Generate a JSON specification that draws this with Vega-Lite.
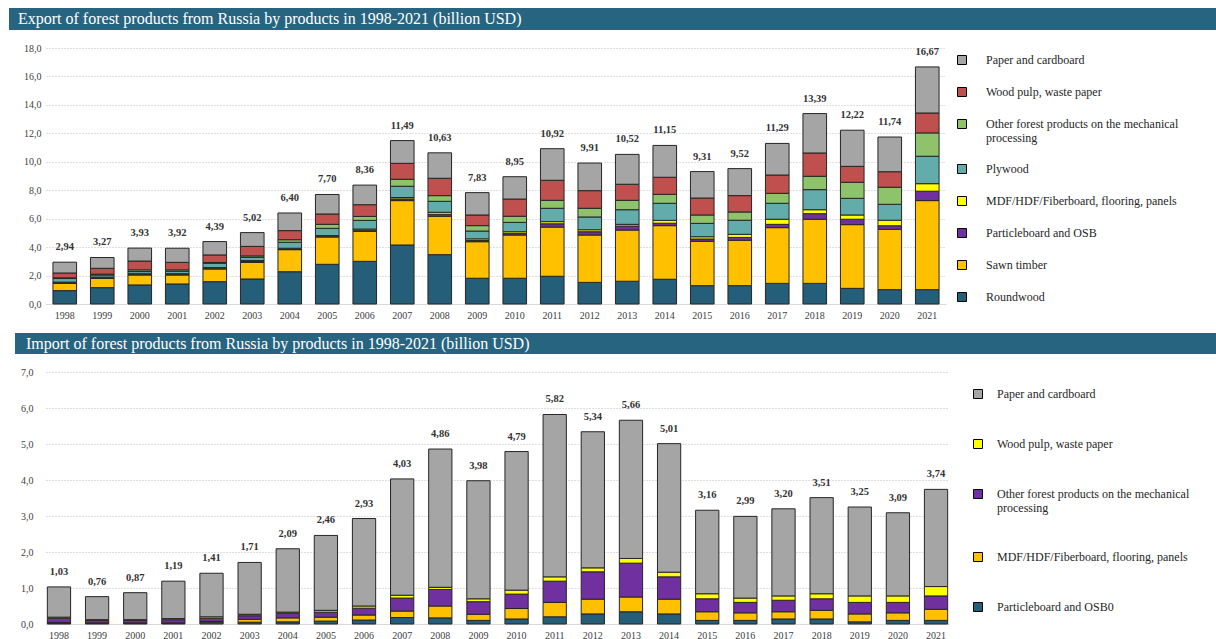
{
  "$schema": "https://vega.github.io/schema/vega-lite/v6.json",
  "padding": {"left": 8, "top": 8, "right": 0, "bottom": 0},
  "background": "white",
  "spacing": 13,
  "columns": 1,
  "align": "none",
  "config": {
    "locale": {"number": {"decimal": ",", "thousands": " ", "grouping": [3], "currency": ["", ""]}},
    "view": {"stroke": null},
    "font": "Liberation Serif",
    "axis": {"labelFont": "Liberation Serif", "labelFontSize": 10, "labelColor": "#404040", "ticks": false, "title": null},
    "legend": {"labelFont": "Liberation Serif", "labelFontSize": 12, "labelColor": "#262626", "symbolType": "square", "symbolSize": 81, "symbolStrokeColor": "#000000", "symbolStrokeWidth": 1, "labelLimit": 300, "title": null}
  },
  "resolve": {"scale": {"color": "independent", "x": "independent", "y": "independent"}, "legend": {"color": "independent"}},
  "datasets": {
    "exp": [
      {"year": "1998", "Roundwood": 0.94, "Sawn timber": 0.51, "Particleboard and OSB": 0.04, "MDF/HDF/Fiberboard, flooring, panels": 0.05, "Plywood": 0.25, "Other forest products on the mechanical processing": 0.05, "Wood pulp, waste paper": 0.34, "Paper and cardboard": 0.76, "total": 2.94},
      {"year": "1999", "Roundwood": 1.15, "Sawn timber": 0.65, "Particleboard and OSB": 0.04, "MDF/HDF/Fiberboard, flooring, panels": 0.05, "Plywood": 0.15, "Other forest products on the mechanical processing": 0.06, "Wood pulp, waste paper": 0.41, "Paper and cardboard": 0.76, "total": 3.27},
      {"year": "2000", "Roundwood": 1.34, "Sawn timber": 0.70, "Particleboard and OSB": 0.04, "MDF/HDF/Fiberboard, flooring, panels": 0.05, "Plywood": 0.15, "Other forest products on the mechanical processing": 0.12, "Wood pulp, waste paper": 0.62, "Paper and cardboard": 0.91, "total": 3.93},
      {"year": "2001", "Roundwood": 1.41, "Sawn timber": 0.63, "Particleboard and OSB": 0.04, "MDF/HDF/Fiberboard, flooring, panels": 0.05, "Plywood": 0.17, "Other forest products on the mechanical processing": 0.10, "Wood pulp, waste paper": 0.53, "Paper and cardboard": 0.99, "total": 3.92},
      {"year": "2002", "Roundwood": 1.57, "Sawn timber": 0.89, "Particleboard and OSB": 0.05, "MDF/HDF/Fiberboard, flooring, panels": 0.05, "Plywood": 0.30, "Other forest products on the mechanical processing": 0.06, "Wood pulp, waste paper": 0.53, "Paper and cardboard": 0.94, "total": 4.39},
      {"year": "2003", "Roundwood": 1.76, "Sawn timber": 1.17, "Particleboard and OSB": 0.06, "MDF/HDF/Fiberboard, flooring, panels": 0.06, "Plywood": 0.23, "Other forest products on the mechanical processing": 0.10, "Wood pulp, waste paper": 0.67, "Paper and cardboard": 0.97, "total": 5.02},
      {"year": "2004", "Roundwood": 2.27, "Sawn timber": 1.55, "Particleboard and OSB": 0.05, "MDF/HDF/Fiberboard, flooring, panels": 0.05, "Plywood": 0.42, "Other forest products on the mechanical processing": 0.18, "Wood pulp, waste paper": 0.64, "Paper and cardboard": 1.24, "total": 6.40},
      {"year": "2005", "Roundwood": 2.79, "Sawn timber": 1.92, "Particleboard and OSB": 0.05, "MDF/HDF/Fiberboard, flooring, panels": 0.05, "Plywood": 0.51, "Other forest products on the mechanical processing": 0.28, "Wood pulp, waste paper": 0.73, "Paper and cardboard": 1.37, "total": 7.70},
      {"year": "2006", "Roundwood": 3.00, "Sawn timber": 2.11, "Particleboard and OSB": 0.08, "MDF/HDF/Fiberboard, flooring, panels": 0.08, "Plywood": 0.61, "Other forest products on the mechanical processing": 0.28, "Wood pulp, waste paper": 0.82, "Paper and cardboard": 1.38, "total": 8.36},
      {"year": "2007", "Roundwood": 4.15, "Sawn timber": 3.12, "Particleboard and OSB": 0.12, "MDF/HDF/Fiberboard, flooring, panels": 0.10, "Plywood": 0.79, "Other forest products on the mechanical processing": 0.49, "Wood pulp, waste paper": 1.12, "Paper and cardboard": 1.60, "total": 11.49},
      {"year": "2008", "Roundwood": 3.47, "Sawn timber": 2.70, "Particleboard and OSB": 0.14, "MDF/HDF/Fiberboard, flooring, panels": 0.14, "Plywood": 0.77, "Other forest products on the mechanical processing": 0.40, "Wood pulp, waste paper": 1.22, "Paper and cardboard": 1.79, "total": 10.63},
      {"year": "2009", "Roundwood": 1.81, "Sawn timber": 2.57, "Particleboard and OSB": 0.08, "MDF/HDF/Fiberboard, flooring, panels": 0.12, "Plywood": 0.55, "Other forest products on the mechanical processing": 0.38, "Wood pulp, waste paper": 0.75, "Paper and cardboard": 1.57, "total": 7.83},
      {"year": "2010", "Roundwood": 1.81, "Sawn timber": 3.04, "Particleboard and OSB": 0.10, "MDF/HDF/Fiberboard, flooring, panels": 0.13, "Plywood": 0.66, "Other forest products on the mechanical processing": 0.43, "Wood pulp, waste paper": 1.21, "Paper and cardboard": 1.57, "total": 8.95},
      {"year": "2011", "Roundwood": 1.95, "Sawn timber": 3.46, "Particleboard and OSB": 0.23, "MDF/HDF/Fiberboard, flooring, panels": 0.15, "Plywood": 0.94, "Other forest products on the mechanical processing": 0.56, "Wood pulp, waste paper": 1.41, "Paper and cardboard": 2.22, "total": 10.92},
      {"year": "2012", "Roundwood": 1.52, "Sawn timber": 3.33, "Particleboard and OSB": 0.23, "MDF/HDF/Fiberboard, flooring, panels": 0.14, "Plywood": 0.90, "Other forest products on the mechanical processing": 0.61, "Wood pulp, waste paper": 1.24, "Paper and cardboard": 1.94, "total": 9.91},
      {"year": "2013", "Roundwood": 1.60, "Sawn timber": 3.60, "Particleboard and OSB": 0.28, "MDF/HDF/Fiberboard, flooring, panels": 0.12, "Plywood": 1.03, "Other forest products on the mechanical processing": 0.66, "Wood pulp, waste paper": 1.13, "Paper and cardboard": 2.10, "total": 10.52},
      {"year": "2014", "Roundwood": 1.74, "Sawn timber": 3.77, "Particleboard and OSB": 0.17, "MDF/HDF/Fiberboard, flooring, panels": 0.20, "Plywood": 1.20, "Other forest products on the mechanical processing": 0.63, "Wood pulp, waste paper": 1.20, "Paper and cardboard": 2.24, "total": 11.15},
      {"year": "2015", "Roundwood": 1.29, "Sawn timber": 3.12, "Particleboard and OSB": 0.16, "MDF/HDF/Fiberboard, flooring, panels": 0.16, "Plywood": 0.94, "Other forest products on the mechanical processing": 0.59, "Wood pulp, waste paper": 1.19, "Paper and cardboard": 1.86, "total": 9.31},
      {"year": "2016", "Roundwood": 1.29, "Sawn timber": 3.19, "Particleboard and OSB": 0.20, "MDF/HDF/Fiberboard, flooring, panels": 0.22, "Plywood": 0.99, "Other forest products on the mechanical processing": 0.58, "Wood pulp, waste paper": 1.15, "Paper and cardboard": 1.90, "total": 9.52},
      {"year": "2017", "Roundwood": 1.45, "Sawn timber": 3.92, "Particleboard and OSB": 0.23, "MDF/HDF/Fiberboard, flooring, panels": 0.36, "Plywood": 1.12, "Other forest products on the mechanical processing": 0.70, "Wood pulp, waste paper": 1.29, "Paper and cardboard": 2.22, "total": 11.29},
      {"year": "2018", "Roundwood": 1.45, "Sawn timber": 4.51, "Particleboard and OSB": 0.39, "MDF/HDF/Fiberboard, flooring, panels": 0.28, "Plywood": 1.41, "Other forest products on the mechanical processing": 0.94, "Wood pulp, waste paper": 1.64, "Paper and cardboard": 2.77, "total": 13.39},
      {"year": "2019", "Roundwood": 1.10, "Sawn timber": 4.48, "Particleboard and OSB": 0.38, "MDF/HDF/Fiberboard, flooring, panels": 0.30, "Plywood": 1.17, "Other forest products on the mechanical processing": 1.13, "Wood pulp, waste paper": 1.12, "Paper and cardboard": 2.54, "total": 12.22},
      {"year": "2020", "Roundwood": 1.01, "Sawn timber": 4.24, "Particleboard and OSB": 0.25, "MDF/HDF/Fiberboard, flooring, panels": 0.39, "Plywood": 1.12, "Other forest products on the mechanical processing": 1.20, "Wood pulp, waste paper": 1.09, "Paper and cardboard": 2.44, "total": 11.74},
      {"year": "2021", "Roundwood": 1.01, "Sawn timber": 6.26, "Particleboard and OSB": 0.66, "MDF/HDF/Fiberboard, flooring, panels": 0.53, "Plywood": 1.93, "Other forest products on the mechanical processing": 1.64, "Wood pulp, waste paper": 1.40, "Paper and cardboard": 3.24, "total": 16.67}
    ],
    "imp": [
      {"year": "1998", "Particleboard and OSB0": 0.03, "MDF/HDF/Fiberboard, flooring, panels": 0.01, "Other forest products on the mechanical processing": 0.12, "Wood pulp, waste paper": 0.03, "Paper and cardboard": 0.84, "total": 1.03},
      {"year": "1999", "Particleboard and OSB0": 0.02, "MDF/HDF/Fiberboard, flooring, panels": 0.01, "Other forest products on the mechanical processing": 0.07, "Wood pulp, waste paper": 0.02, "Paper and cardboard": 0.64, "total": 0.76},
      {"year": "2000", "Particleboard and OSB0": 0.02, "MDF/HDF/Fiberboard, flooring, panels": 0.01, "Other forest products on the mechanical processing": 0.07, "Wood pulp, waste paper": 0.02, "Paper and cardboard": 0.75, "total": 0.87},
      {"year": "2001", "Particleboard and OSB0": 0.02, "MDF/HDF/Fiberboard, flooring, panels": 0.01, "Other forest products on the mechanical processing": 0.09, "Wood pulp, waste paper": 0.03, "Paper and cardboard": 1.04, "total": 1.19},
      {"year": "2002", "Particleboard and OSB0": 0.05, "MDF/HDF/Fiberboard, flooring, panels": 0.02, "Other forest products on the mechanical processing": 0.09, "Wood pulp, waste paper": 0.04, "Paper and cardboard": 1.21, "total": 1.41},
      {"year": "2003", "Particleboard and OSB0": 0.05, "MDF/HDF/Fiberboard, flooring, panels": 0.08, "Other forest products on the mechanical processing": 0.10, "Wood pulp, waste paper": 0.04, "Paper and cardboard": 1.44, "total": 1.71},
      {"year": "2004", "Particleboard and OSB0": 0.06, "MDF/HDF/Fiberboard, flooring, panels": 0.11, "Other forest products on the mechanical processing": 0.13, "Wood pulp, waste paper": 0.03, "Paper and cardboard": 1.76, "total": 2.09},
      {"year": "2005", "Particleboard and OSB0": 0.08, "MDF/HDF/Fiberboard, flooring, panels": 0.11, "Other forest products on the mechanical processing": 0.14, "Wood pulp, waste paper": 0.05, "Paper and cardboard": 2.08, "total": 2.46},
      {"year": "2006", "Particleboard and OSB0": 0.11, "MDF/HDF/Fiberboard, flooring, panels": 0.14, "Other forest products on the mechanical processing": 0.19, "Wood pulp, waste paper": 0.06, "Paper and cardboard": 2.43, "total": 2.93},
      {"year": "2007", "Particleboard and OSB0": 0.18, "MDF/HDF/Fiberboard, flooring, panels": 0.18, "Other forest products on the mechanical processing": 0.36, "Wood pulp, waste paper": 0.08, "Paper and cardboard": 3.23, "total": 4.03},
      {"year": "2008", "Particleboard and OSB0": 0.17, "MDF/HDF/Fiberboard, flooring, panels": 0.33, "Other forest products on the mechanical processing": 0.46, "Wood pulp, waste paper": 0.06, "Paper and cardboard": 3.84, "total": 4.86},
      {"year": "2009", "Particleboard and OSB0": 0.10, "MDF/HDF/Fiberboard, flooring, panels": 0.17, "Other forest products on the mechanical processing": 0.35, "Wood pulp, waste paper": 0.08, "Paper and cardboard": 3.28, "total": 3.98},
      {"year": "2010", "Particleboard and OSB0": 0.14, "MDF/HDF/Fiberboard, flooring, panels": 0.29, "Other forest products on the mechanical processing": 0.40, "Wood pulp, waste paper": 0.11, "Paper and cardboard": 3.85, "total": 4.79},
      {"year": "2011", "Particleboard and OSB0": 0.20, "MDF/HDF/Fiberboard, flooring, panels": 0.40, "Other forest products on the mechanical processing": 0.59, "Wood pulp, waste paper": 0.12, "Paper and cardboard": 4.51, "total": 5.82},
      {"year": "2012", "Particleboard and OSB0": 0.28, "MDF/HDF/Fiberboard, flooring, panels": 0.41, "Other forest products on the mechanical processing": 0.76, "Wood pulp, waste paper": 0.11, "Paper and cardboard": 3.78, "total": 5.34},
      {"year": "2013", "Particleboard and OSB0": 0.34, "MDF/HDF/Fiberboard, flooring, panels": 0.41, "Other forest products on the mechanical processing": 0.94, "Wood pulp, waste paper": 0.13, "Paper and cardboard": 3.84, "total": 5.66},
      {"year": "2014", "Particleboard and OSB0": 0.28, "MDF/HDF/Fiberboard, flooring, panels": 0.41, "Other forest products on the mechanical processing": 0.62, "Wood pulp, waste paper": 0.13, "Paper and cardboard": 3.57, "total": 5.01},
      {"year": "2015", "Particleboard and OSB0": 0.10, "MDF/HDF/Fiberboard, flooring, panels": 0.24, "Other forest products on the mechanical processing": 0.36, "Wood pulp, waste paper": 0.14, "Paper and cardboard": 2.32, "total": 3.16},
      {"year": "2016", "Particleboard and OSB0": 0.10, "MDF/HDF/Fiberboard, flooring, panels": 0.21, "Other forest products on the mechanical processing": 0.29, "Wood pulp, waste paper": 0.12, "Paper and cardboard": 2.27, "total": 2.99},
      {"year": "2017", "Particleboard and OSB0": 0.14, "MDF/HDF/Fiberboard, flooring, panels": 0.20, "Other forest products on the mechanical processing": 0.32, "Wood pulp, waste paper": 0.12, "Paper and cardboard": 2.42, "total": 3.20},
      {"year": "2018", "Particleboard and OSB0": 0.14, "MDF/HDF/Fiberboard, flooring, panels": 0.24, "Other forest products on the mechanical processing": 0.32, "Wood pulp, waste paper": 0.14, "Paper and cardboard": 2.67, "total": 3.51},
      {"year": "2019", "Particleboard and OSB0": 0.06, "MDF/HDF/Fiberboard, flooring, panels": 0.22, "Other forest products on the mechanical processing": 0.32, "Wood pulp, waste paper": 0.18, "Paper and cardboard": 2.47, "total": 3.25},
      {"year": "2020", "Particleboard and OSB0": 0.10, "MDF/HDF/Fiberboard, flooring, panels": 0.21, "Other forest products on the mechanical processing": 0.29, "Wood pulp, waste paper": 0.18, "Paper and cardboard": 2.31, "total": 3.09},
      {"year": "2021", "Particleboard and OSB0": 0.10, "MDF/HDF/Fiberboard, flooring, panels": 0.31, "Other forest products on the mechanical processing": 0.37, "Wood pulp, waste paper": 0.26, "Paper and cardboard": 2.70, "total": 3.74}
    ]
  },
  "concat": [
    {
      "width": 1171, "height": 22,
      "data": {"values": [{"t": "Export of forest products from Russia by products in 1998-2021 (billion USD)"}]},
      "layer": [
        {
          "mark": {"type": "rect", "color": "#27647F"},
          "encoding": {"x": {"datum": -0.0316, "type": "quantitative", "scale": {"domain": [0, 1]}, "axis": null}, "x2": {"datum": 1}}
        },
        {
          "mark": {"type": "text", "align": "left", "baseline": "middle", "color": "white", "font": "Liberation Serif", "fontSize": 16, "dx": 9},
          "encoding": {"x": {"datum": -0.0316, "type": "quantitative"}, "text": {"field": "t"}}
        }
      ]
    },
    {
      "width": 900, "height": 256,
      "data": {"name": "exp"},
      "layer": [
        {
          "transform": [
            {"fold": ["Roundwood", "Sawn timber", "Particleboard and OSB", "MDF/HDF/Fiberboard, flooring, panels", "Plywood", "Other forest products on the mechanical processing", "Wood pulp, waste paper", "Paper and cardboard"], "as": ["product", "value"]},
            {"calculate": "indexof(['Roundwood', 'Sawn timber', 'Particleboard and OSB', 'MDF/HDF/Fiberboard, flooring, panels', 'Plywood', 'Other forest products on the mechanical processing', 'Wood pulp, waste paper', 'Paper and cardboard'], datum.product)", "as": "k"}
          ],
          "mark": {"type": "bar", "stroke": "#262626", "strokeWidth": 1},
          "encoding": {
            "x": {"field": "year", "type": "ordinal", "scale": {"paddingInner": 0.37, "paddingOuter": 0.185}, "axis": {"labelAngle": 0, "domain": true, "domainColor": "#d9d9d9", "labelPadding": 6, "grid": false}},
            "y": {"field": "value", "type": "quantitative", "stack": "zero", "scale": {"domain": [0, 18], "nice": false}, "axis": {"values": [0, 2, 4, 6, 8, 10, 12, 14, 16, 18], "format": ".1f", "labelOverlap": false, "grid": true, "gridDash": [1, 2], "gridColor": "#bfbfbf", "domain": false, "labelPadding": 5, "minExtent": 37, "maxExtent": 37}},
            "color": {"field": "product", "type": "nominal", "scale": {"domain": ["Paper and cardboard", "Wood pulp, waste paper", "Other forest products on the mechanical processing", "Plywood", "MDF/HDF/Fiberboard, flooring, panels", "Particleboard and OSB", "Sawn timber", "Roundwood"], "range": ["#A5A5A5", "#C0504D", "#8FC36B", "#62ADAC", "#FFFF00", "#7030A0", "#FFC000", "#255E79"]},
              "legend": {"orient": "none", "legendX": 910, "legendY": 6, "rowPadding": 18, "labelOffset": 18, "labelExpr": "datum.label == 'Other forest products on the mechanical processing' ? ['Other forest products on the mechanical', 'processing'] : datum.label"}},
            "order": {"field": "k", "type": "quantitative"}
          }
        },
        {
          "mark": {"type": "text", "dy": -15, "fontWeight": "bold", "fontSize": 10.5, "color": "#333333", "font": "Liberation Serif"},
          "encoding": {
            "x": {"field": "year", "type": "ordinal"},
            "y": {"field": "total", "type": "quantitative", "axis": {"values": [0, 2, 4, 6, 8, 10, 12, 14, 16, 18], "format": ".1f", "labelOverlap": false, "grid": true, "gridDash": [1, 2], "gridColor": "#bfbfbf", "domain": false, "labelPadding": 5, "minExtent": 37, "maxExtent": 37}},
            "text": {"field": "total", "type": "quantitative", "format": ".2f"}
          }
        }
      ]
    },
    {
      "width": 1171, "height": 21,
      "data": {"values": [{"t": "Import of forest products from Russia by products in 1998-2021 (billion USD)"}]},
      "layer": [
        {
          "mark": {"type": "rect", "color": "#27647F"},
          "encoding": {"x": {"datum": -0.0265, "type": "quantitative", "scale": {"domain": [0, 1]}, "axis": null}, "x2": {"datum": 1}}
        },
        {
          "mark": {"type": "text", "align": "left", "baseline": "middle", "color": "white", "font": "Liberation Serif", "fontSize": 16, "dx": 11},
          "encoding": {"x": {"datum": -0.0265, "type": "quantitative"}, "text": {"field": "t"}}
        }
      ]
    },
    {
      "width": 903, "height": 252,
      "data": {"name": "imp"},
      "layer": [
        {
          "transform": [
            {"fold": ["Particleboard and OSB0", "MDF/HDF/Fiberboard, flooring, panels", "Other forest products on the mechanical processing", "Wood pulp, waste paper", "Paper and cardboard"], "as": ["product", "value"]},
            {"calculate": "indexof(['Particleboard and OSB0', 'MDF/HDF/Fiberboard, flooring, panels', 'Other forest products on the mechanical processing', 'Wood pulp, waste paper', 'Paper and cardboard'], datum.product)", "as": "k"}
          ],
          "mark": {"type": "bar", "stroke": "#262626", "strokeWidth": 1},
          "encoding": {
            "x": {"field": "year", "type": "ordinal", "scale": {"paddingInner": 0.39, "paddingOuter": 0.035}, "axis": {"labelAngle": 0, "domain": true, "domainColor": "#d9d9d9", "labelPadding": 6, "grid": false}},
            "y": {"field": "value", "type": "quantitative", "stack": "zero", "scale": {"domain": [0, 7], "nice": false}, "axis": {"values": [0, 1, 2, 3, 4, 5, 6, 7], "format": ".1f", "labelOverlap": false, "grid": true, "gridDash": [1, 2], "gridColor": "#bfbfbf", "domain": false, "labelPadding": 13, "minExtent": 37, "maxExtent": 37}},
            "color": {"field": "product", "type": "nominal", "scale": {"domain": ["Paper and cardboard", "Wood pulp, waste paper", "Other forest products on the mechanical processing", "MDF/HDF/Fiberboard, flooring, panels", "Particleboard and OSB0"], "range": ["#A5A5A5", "#FFFF00", "#7030A0", "#FFC000", "#255E79"]},
              "legend": {"orient": "none", "legendX": 926, "legendY": 16, "rowPadding": 36, "labelOffset": 13, "labelExpr": "datum.label == 'Other forest products on the mechanical processing' ? ['Other forest products on the mechanical', 'processing'] : datum.label"}},
            "order": {"field": "k", "type": "quantitative"}
          }
        },
        {
          "mark": {"type": "text", "dy": -15, "fontWeight": "bold", "fontSize": 10.5, "color": "#333333", "font": "Liberation Serif"},
          "encoding": {
            "x": {"field": "year", "type": "ordinal"},
            "y": {"field": "total", "type": "quantitative", "axis": {"values": [0, 1, 2, 3, 4, 5, 6, 7], "format": ".1f", "labelOverlap": false, "grid": true, "gridDash": [1, 2], "gridColor": "#bfbfbf", "domain": false, "labelPadding": 13, "minExtent": 37, "maxExtent": 37}},
            "text": {"field": "total", "type": "quantitative", "format": ".2f"}
          }
        }
      ]
    }
  ]
}
